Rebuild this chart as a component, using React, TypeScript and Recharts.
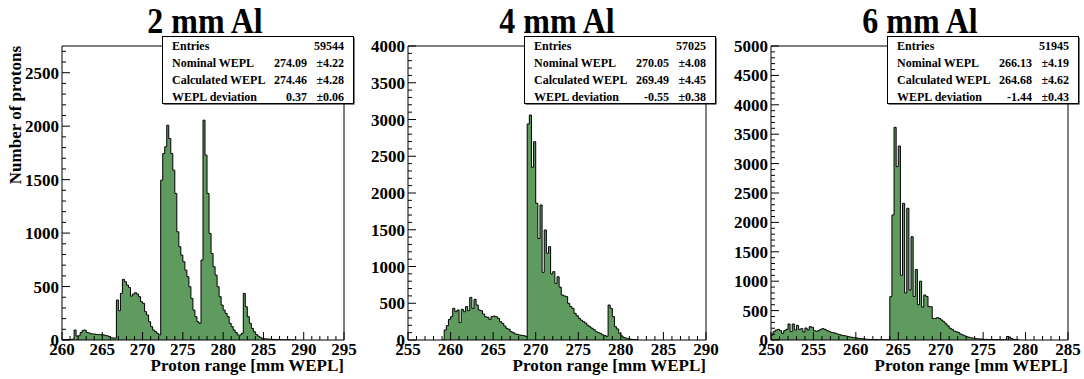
import { AreaChart, Area, XAxis, YAxis, ReferenceArea } from 'recharts'

// bin width of all three histograms, mm WEPL
const BIN = 0.25

// 2 mm Al, counts per bin starting at start2
const start2 = 260
const counts2 = [
  3, 3, 4, 4, 5, 8, 93, 37, 40, 70,
  90, 93, 70, 66, 58, 56, 55, 52, 50, 50,
  48, 44, 40, 31, 22, 19, 17, 374, 274, 436,
  567, 545, 514, 492, 411, 430, 442, 430, 405, 358,
  343, 265, 234, 171, 125, 93, 78, 62, 47, 1495,
  1744, 1807, 2009, 1885, 1744, 1589, 1371, 1012, 872, 794,
  732, 654, 592, 498, 389, 280, 218, 171, 156, 748,
  2056, 1729, 1371, 997, 810, 685, 607, 498, 405, 327,
  280, 249, 218, 156, 125, 93, 69, 47, 47, 62,
  436, 311, 218, 156, 109, 78, 53, 37, 25, 15,
  12, 10, 9, 8, 6, 5, 4, 4, 3, 3,
  2, 2, 2, 1, 1, 1,
]

// 4 mm Al
const start4 = 259
const counts4 = [
  0, 136, 195, 281, 317, 431, 385, 408, 236, 417,
  385, 454, 399, 580, 431, 553, 476, 408, 399, 354,
  317, 308, 281, 317, 326, 317, 295, 249, 227, 190,
  159, 145, 113, 100, 82, 77, 68, 63, 59, 50,
  2939, 3061, 2350, 2698, 1860, 1380, 1837, 920, 1497, 1180,
  1270, 900, 930, 771, 860, 720, 612, 600, 590, 499,
  454, 430, 363, 330, 295, 270, 250, 230, 200, 180,
  160, 140, 113, 100, 90, 70, 60, 50, 476, 431,
  318, 180, 150, 90, 55, 35, 25, 18, 12, 8,
  5, 3,
]

// 6 mm Al
const start6 = 250
const counts6 = [
  85, 142, 170, 181, 159, 113, 159, 181, 272, 142,
  272, 170, 249, 181, 193, 136, 204, 170, 227, 215,
  159, 147, 159, 181, 193, 181, 159, 147, 130, 125,
  113, 102, 91, 79, 74, 68, 57, 51, 45, 40,
  34, 28, 23, 20, 15, 12, 10, 10, 8, 8,
  6, 6, 5, 5, 5, 5, 737, 2126, 3617, 2948,
  3299, 1100, 2324, 800, 2240, 850, 1757, 740, 1200, 600,
  1000, 560, 765, 740, 567, 567, 368, 368, 380, 368,
  340, 310, 275, 240, 200, 180, 150, 140, 125, 100,
  85, 70, 55, 45, 38, 30, 25, 20, 18, 15,
  10, 10, 10, 8, 8, 6, 6, 5, 5, 5,
  5, 60, 50, 25, 10, 4, 2,
]

const titles = ['2 mm Al', '4 mm Al', '6 mm Al']
const statLabels = ['Entries', 'Nominal WEPL', 'Calculated WEPL', 'WEPL deviation']
const entries = ['59544', '57025', '51945']
const statValues = [
  ['274.09', '274.46', '0.37'],
  ['270.05', '269.49', '-0.55'],
  ['266.13', '264.68', '-1.44'],
]
const statErrors = [
  ['4.22', '4.28', '0.06'],
  ['4.08', '4.45', '0.38'],
  ['4.19', '4.62', '0.43'],
]

const FILL = '#5f9b5f'
const FONT = "'Liberation Serif', 'Times New Roman', serif"

const range = (lo: number, hi: number, step: number) => {
  const out: number[] = []
  for (let v = lo; v <= hi + 1e-9; v += step) out.push(Math.round(v * 100) / 100)
  return out
}

const toBins = (start: number, counts: number[]) => {
  const pts = counts.map((c, i) => ({ x: start + i * BIN, y: c }))
  pts.push({ x: start + counts.length * BIN, y: 0 })
  return pts
}

function XTick(props: any) {
  const { x, y, payload } = props
  const v = payload.value
  const major = Math.abs(v % 5) < 1e-6
  return (
    <g>
      <line x1={x} x2={x} y1={y} y2={y - (major ? 8 : 4)} stroke="#000" strokeWidth={1} />
      {major && (
        <text x={x} y={y + 15} textAnchor="middle" fontFamily={FONT} fontWeight="bold" fontSize={17} fill="#000">
          {v}
        </text>
      )}
    </g>
  )
}

function YTick(props: any) {
  const { x, y, payload } = props
  const v = payload.value
  const major = v % 500 === 0
  return (
    <g>
      <line x1={x} x2={x + (major ? 8 : 4)} y1={y} y2={y} stroke="#000" strokeWidth={1} />
      {major && (
        <text x={x - 3} y={y + 6} textAnchor="end" fontFamily={FONT} fontWeight="bold" fontSize={17} fill="#000">
          {v}
        </text>
      )}
    </g>
  )
}

interface PanelProps {
  left: number
  width: number
  yAxisWidth: number
  rightMargin: number
  start: number
  counts: number[]
  xMin: number
  xMax: number
  yMax: number
}

function Panel({ left, width, yAxisWidth, rightMargin, start, counts, xMin, xMax, yMax }: PanelProps) {
  const data = toBins(start, counts)
  return (
    <div style={{ position: 'absolute', left, top: 0 }}>
      <AreaChart width={width} height={379} data={data} margin={{ top: 46, right: rightMargin, left: 0, bottom: 0 }}>
        <XAxis
          type="number"
          dataKey="x"
          domain={[xMin, xMax]}
          ticks={range(xMin, xMax, 1)}
          interval={0}
          allowDataOverflow
          axisLine={false}
          tickLine={false}
          tickSize={0}
          tickMargin={0}
          tick={XTick}
          height={39}
        />
        <YAxis
          type="number"
          domain={[0, yMax]}
          ticks={range(0, yMax, 100)}
          interval={0}
          allowDataOverflow
          axisLine={false}
          tickLine={false}
          tickSize={0}
          tickMargin={0}
          tick={YTick}
          width={yAxisWidth}
        />
        <Area
          type="stepAfter"
          dataKey="y"
          stroke="#000"
          strokeWidth={1}
          fill={FILL}
          fillOpacity={1}
          baseValue={0}
          dot={false}
          activeDot={false}
          isAnimationActive={false}
        />
        <ReferenceArea x1={xMin} x2={xMax} y1={0} y2={yMax} fill="none" stroke="#000" strokeWidth={1} ifOverflow="visible" />
      </AreaChart>
    </div>
  )
}

function StatsBox({ left, k }: { left: number; k: number }) {
  const top = 36
  return (
    <g fontFamily={FONT} fontWeight="bold" fontSize={12} fill="#000">
      <rect x={left + 1.5} y={top + 1.5} width={191} height={67} fill="#000" />
      <rect x={left + 0.5} y={top + 0.5} width={191} height={67} fill="#fff" stroke="#000" strokeWidth={1} />
      {statLabels.map((lab, r) => (
        <text key={lab} x={left + 10} y={top + 13.5 + r * 17}>
          {lab}
        </text>
      ))}
      <text x={left + 182} y={top + 13.5} textAnchor="end">
        {entries[k]}
      </text>
      {statValues[k].map((v, r) => (
        <g key={r}>
          <text x={left + 145} y={top + 30.5 + r * 17} textAnchor="end">
            {v}
          </text>
          <text x={left + 182} y={top + 30.5 + r * 17} textAnchor="end">
            {'\u00b1' + statErrors[k][r]}
          </text>
        </g>
      ))}
    </g>
  )
}

export default function App() {
  const frameRights = [344, 706, 1068]
  const titleCenters = [205, 557, 920]
  const boxLefts = [162, 524, 887]
  return (
    <div style={{ position: 'absolute', left: 0, top: 0, width: 1084, height: 379, background: '#fff' }}>
      <Panel left={0} width={360} yAxisWidth={62} rightMargin={16} start={start2} counts={counts2} xMin={260} xMax={295} yMax={2750} />
      <Panel left={360} width={360} yAxisWidth={48} rightMargin={14} start={start4} counts={counts4} xMin={255} xMax={290} yMax={4000} />
      <Panel left={720} width={364} yAxisWidth={51} rightMargin={16} start={start6} counts={counts6} xMin={250} xMax={285} yMax={5000} />
      <svg width={1084} height={379} style={{ position: 'absolute', left: 0, top: 0, pointerEvents: 'none' }}>
        {titles.map((t, k) => (
          <text
            key={t}
            transform={`translate(${titleCenters[k]},33) scale(1,1.1)`}
            textAnchor="middle"
            fontFamily={FONT}
            fontWeight="bold"
            fontSize={32}
            fill="#000"
          >
            {t}
          </text>
        ))}
        <text
          transform="translate(21,46) rotate(-90)"
          textAnchor="end"
          fontFamily={FONT}
          fontWeight="bold"
          fontSize={17}
          fill="#000"
        >
          Number of protons
        </text>
        {frameRights.map((r) => (
          <text key={r} x={r} y={371} textAnchor="end" fontFamily={FONT} fontWeight="bold" fontSize={17} fill="#000">
            Proton range [mm WEPL]
          </text>
        ))}
        {boxLefts.map((l, k) => (
          <StatsBox key={l} left={l} k={k} />
        ))}
      </svg>
    </div>
  )
}
